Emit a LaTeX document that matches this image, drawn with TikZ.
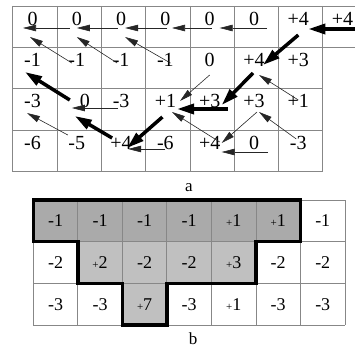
\documentclass[tikz,border=0pt]{standalone}
\usepackage{fontspec}
\setmainfont{Liberation Serif}
\usetikzlibrary{calc}
\usetikzlibrary{arrows.meta}
\definecolor{GridGray}{RGB}{135,135,135}
\definecolor{ShadeDark}{RGB}{170,170,170}
\definecolor{ShadeLight}{RGB}{192,192,192}
\tikzset{
  gridline/.style={draw=GridGray,line width=0.8pt},
  num/.style={inner sep=0pt,font=\fontsize{20}{20}\selectfont},
  cellnum/.style={inner sep=0pt,font=\fontsize{18}{18}\selectfont},
  caption/.style={inner sep=0pt,font=\fontsize{17}{17}\selectfont},
}
\tikzset{link/.style={draw=black!85,line width=0.6pt,-{Triangle[length=13pt,width=6.5pt]}}, best/.style={draw=black,line width=3.5pt,-{Triangle[length=17pt,width=10pt]}},region/.style={draw=black,line width=3.5pt,line join=miter}}
\newcommand{\smallplus}{{\fontsize{11}{11}\selectfont+}}

\begin{document}
\begin{tikzpicture}[x=1pt,y=-1pt]
\useasboundingbox (0,0) rectangle (355,350);
\foreach \k in {0,...,7} \draw[gridline] ({12.7+44.3*\k},6) -- ({12.7+44.3*\k},171.5);
\foreach \y in {88.5,130,171.5} \draw[gridline] (12.7,\y) -- (322.8,\y);
\foreach \y in {6,47} \draw[gridline] (12.7,\y) -- (360,\y);
\foreach \v [count=\c] in {0,0,0,0,0,0,+4,+4} \node[num] (t1\c) at ({44.3*\c-11.8},19) {\v};
\foreach \v [count=\c] in {-1,-1,-1,-1,0,+4,+3} \node[num] (t2\c) at ({44.3*\c-11.8},60) {\v};
\foreach \v/\dx [count=\c] in {-3/0,0/8,-3/0,+1/0,+3/0,+3/0,+1/0} \node[num] (t3\c) at ({44.3*\c-11.8+\dx},101) {\v};
\foreach \v [count=\c] in {-6,-5,+4,-6,+4,0,-3} \node[num] (t4\c) at ({44.3*\c-11.8},143) {\v};
\draw[link] ($(t12)+(-7,9)$) -- ($(t11)+(-9.5,9)$);
\draw[link] ($(t13)+(-3,9)$) -- ($(t12)+(0,9)$);
\draw[link] ($(t14)+(2,9)$) -- ($(t13)+(4,9)$);
\draw[link] ($(t15)+(2,9)$) -- ($(t14)+(6.6,9)$);
\draw[link] ($(t16)+(13,9)$) -- ($(t15)+(10,9)$);
\draw[link] ($(t22)+(-5,3)$) -- ($(t11)+(-2.5,18)$);
\draw[link] ($(t23)+(-4,3)$) -- ($(t12)+(0,18)$);
\draw[link] ($(t24)+(5,3)$) -- ($(t13)+(4,18)$);
\draw[link] ($(t25)+(0,15)$) -- ($(t34)+(14.6,0)$);
\draw[link] ($(t37)+(0,-1)$) -- ($(t26)+(5,15)$);
\draw[link] ($(t33)+(-3,7)$) -- ($(t32)+(-13,7)$);
\draw[link] ($(t42)+(-9,-8)$) -- ($(t31)+(-5.5,12)$);
\draw[link] ($(t44)+(0,6)$) -- ($(t43)+(7,6)$);
\draw[link] ($(t45)+(10,-1)$) -- ($(t34)+(6.6,11)$);
\draw[link] ($(t36)+(3,11)$) -- ($(t45)+(12,0)$);
\draw[link] ($(t47)+(-2,-4)$) -- ($(t36)+(5,11)$);
\draw[link] ($(t46)+(14,9)$) -- ($(t45)+(12,9)$);
\draw[best] ($(t18)+(13,10)$) -- ($(t17)+(10,10)$);
\draw[best] ($(t17)+(0,16)$) -- ($(t26)+(9,5)$);
\draw[best] ($(t26)+(-1,13)$) -- ($(t35)+(12,4)$);
\draw[best] ($(t35)+(18,8)$) -- ($(t34)+(11.6,8)$);
\draw[best] ($(t34)+(-3,16)$) -- ($(t43)+(6,5)$);
\draw[best] ($(t43)+(-9,-5)$) -- ($(t32)+(-10,15)$);
\draw[best] ($(t32)+(-15,-1)$) -- ($(t21)+(-7.5,12)$);
\node[caption] (capa) at (189,188) {a};
\fill[ShadeDark] (33.3,200) rectangle (300.5,241.7);
\fill[ShadeLight] (77.8,241.7) rectangle (255.9,283.3);
\fill[ShadeLight] (122.4,283.3) rectangle (166.9,325);
\foreach \k in {0,...,7} \draw[gridline] ({33.3+44.53*\k},200) -- ({33.3+44.53*\k},325);
\foreach \y in {200,241.7,283.3,325} \draw[gridline] (33.3,\y) -- (345,\y);
\draw[region] (33.3,200) -- (300.5,200) -- (300.5,241.7) -- (255.9,241.7) -- (255.9,283.3) -- (166.9,283.3) -- (166.9,325) -- (122.4,325) -- (122.4,283.3) -- (77.8,283.3) -- (77.8,241.7) -- (33.3,241.7) -- cycle;
\foreach \v [count=\c] in {-1,-1,-1,-1,\smallplus1,\smallplus1,-1} \node[cellnum] (b1\c) at ({33.3+44.53*(\c-0.5)},220.8) {\v};
\foreach \v [count=\c] in {-2,\smallplus2,-2,-2,\smallplus3,-2,-2} \node[cellnum] (b2\c) at ({33.3+44.53*(\c-0.5)},262.5) {\v};
\foreach \v [count=\c] in {-3,-3,\smallplus7,-3,\smallplus1,-3,-3} \node[cellnum] (b3\c) at ({33.3+44.53*(\c-0.5)},304.2) {\v};
\node[caption] (capb) at (193,339) {b};
\end{tikzpicture}
\end{document}
